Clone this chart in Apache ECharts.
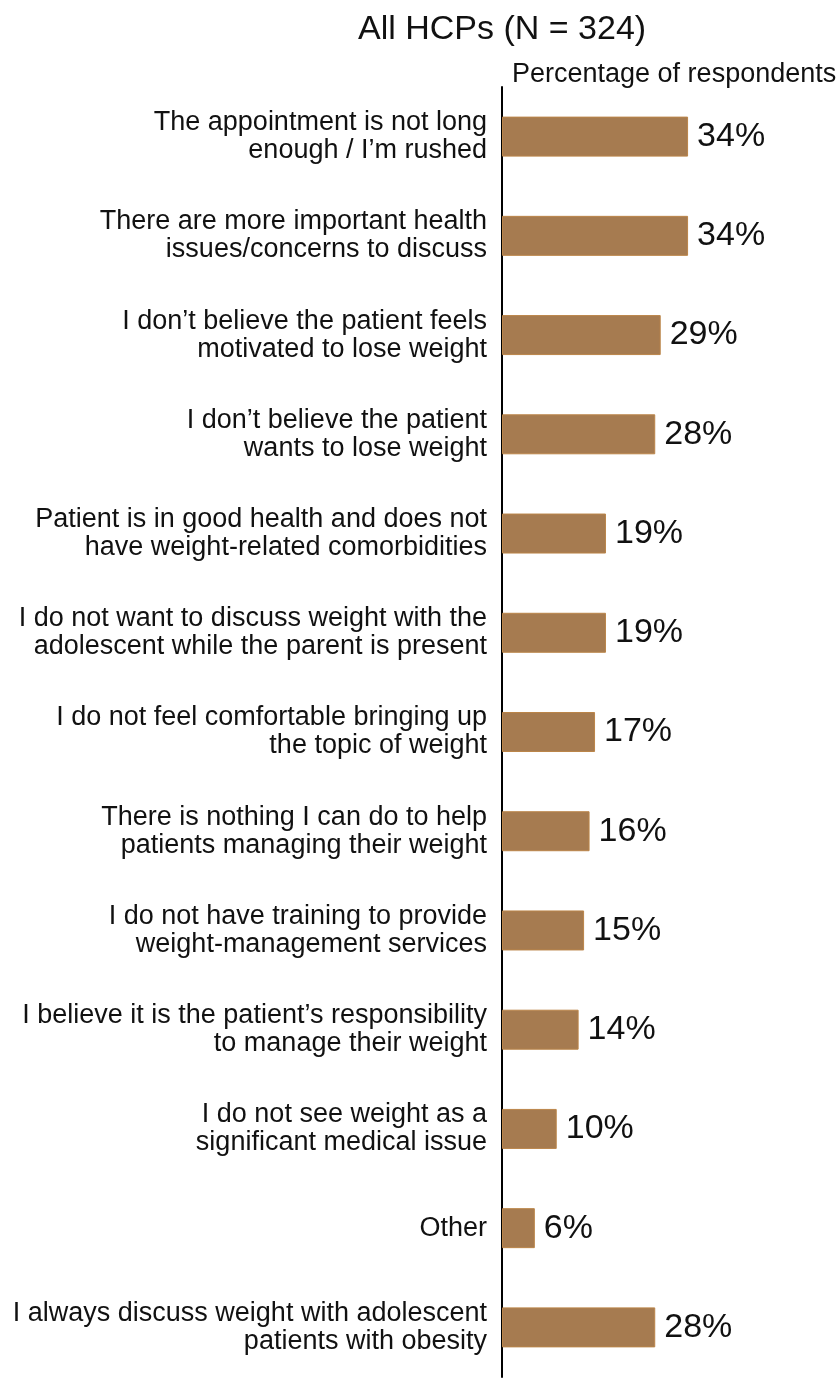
<!DOCTYPE html>
<html>
<head>
<meta charset="utf-8">
<script src="https://cdn.jsdelivr.net/npm/echarts@6/dist/echarts.min.js"></script>
<style>html,body{margin:0;padding:0;background:#fff;}#c{width:838px;height:1379px;}</style>
</head>
<body>
<div id="c"></div>
<script>
const categories = [
  "The appointment is not long\nenough / I\u2019m rushed",
  "There are more important health\nissues/concerns to discuss",
  "I don\u2019t believe the patient feels\nmotivated to lose weight",
  "I don\u2019t believe the patient\nwants to lose weight",
  "Patient is in good health and does not\nhave weight-related comorbidities",
  "I do not want to discuss weight with the\nadolescent while the parent is present",
  "I do not feel comfortable bringing up\nthe topic of weight",
  "There is nothing I can do to help\npatients managing their weight",
  "I do not have training to provide\nweight-management services",
  "I believe it is the patient\u2019s responsibility\nto manage their weight",
  "I do not see weight as a\nsignificant medical issue",
  "Other",
  "I always discuss weight with adolescent\npatients with obesity"
];
const values = [34, 34, 29, 28, 19, 19, 17, 16, 15, 14, 10, 6, 28];
const titleText = "All HCPs (N = 324)";
const axisTitle = "Percentage of respondents";

const chart = echarts.init(document.getElementById('c'), null, {renderer: 'canvas'});
const FONT = "'Liberation Sans', Arial, sans-serif";
chart.setOption({
  animation: false,
  backgroundColor: '#fff',
  title: [
    {text: titleText, left: 353, top: 8, textStyle: {fontFamily: FONT, fontSize: 34, fontWeight: 'normal', color: '#111'}},
    {text: axisTitle, left: 507, top: 56, textStyle: {fontFamily: FONT, fontSize: 27, fontWeight: 'normal', color: '#111'}}
  ],
  grid: {left: 502, right: 35, top: 87, bottom: 2, containLabel: false},
  xAxis: {
    type: 'value', min: 0, max: 55, show: false
  },
  yAxis: {
    type: 'category', data: categories, inverse: true,
    axisLine: {show: true, lineStyle: {color: '#000', width: 2}},
    axisTick: {show: false},
    axisLabel: {fontFamily: FONT, fontSize: 27, lineHeight: 28, color: '#111', margin: 15, align: 'right'}
  },
  series: [{
    type: 'bar', data: values, barWidth: 40,
    itemStyle: {color: '#A67B50', borderColor: '#BB8549', borderWidth: 1},
    label: {show: true, position: 'right', distance: 9, formatter: '{c}%', fontFamily: FONT, fontSize: 34, color: '#111'}
  }]
});
</script>
</body>
</html>
